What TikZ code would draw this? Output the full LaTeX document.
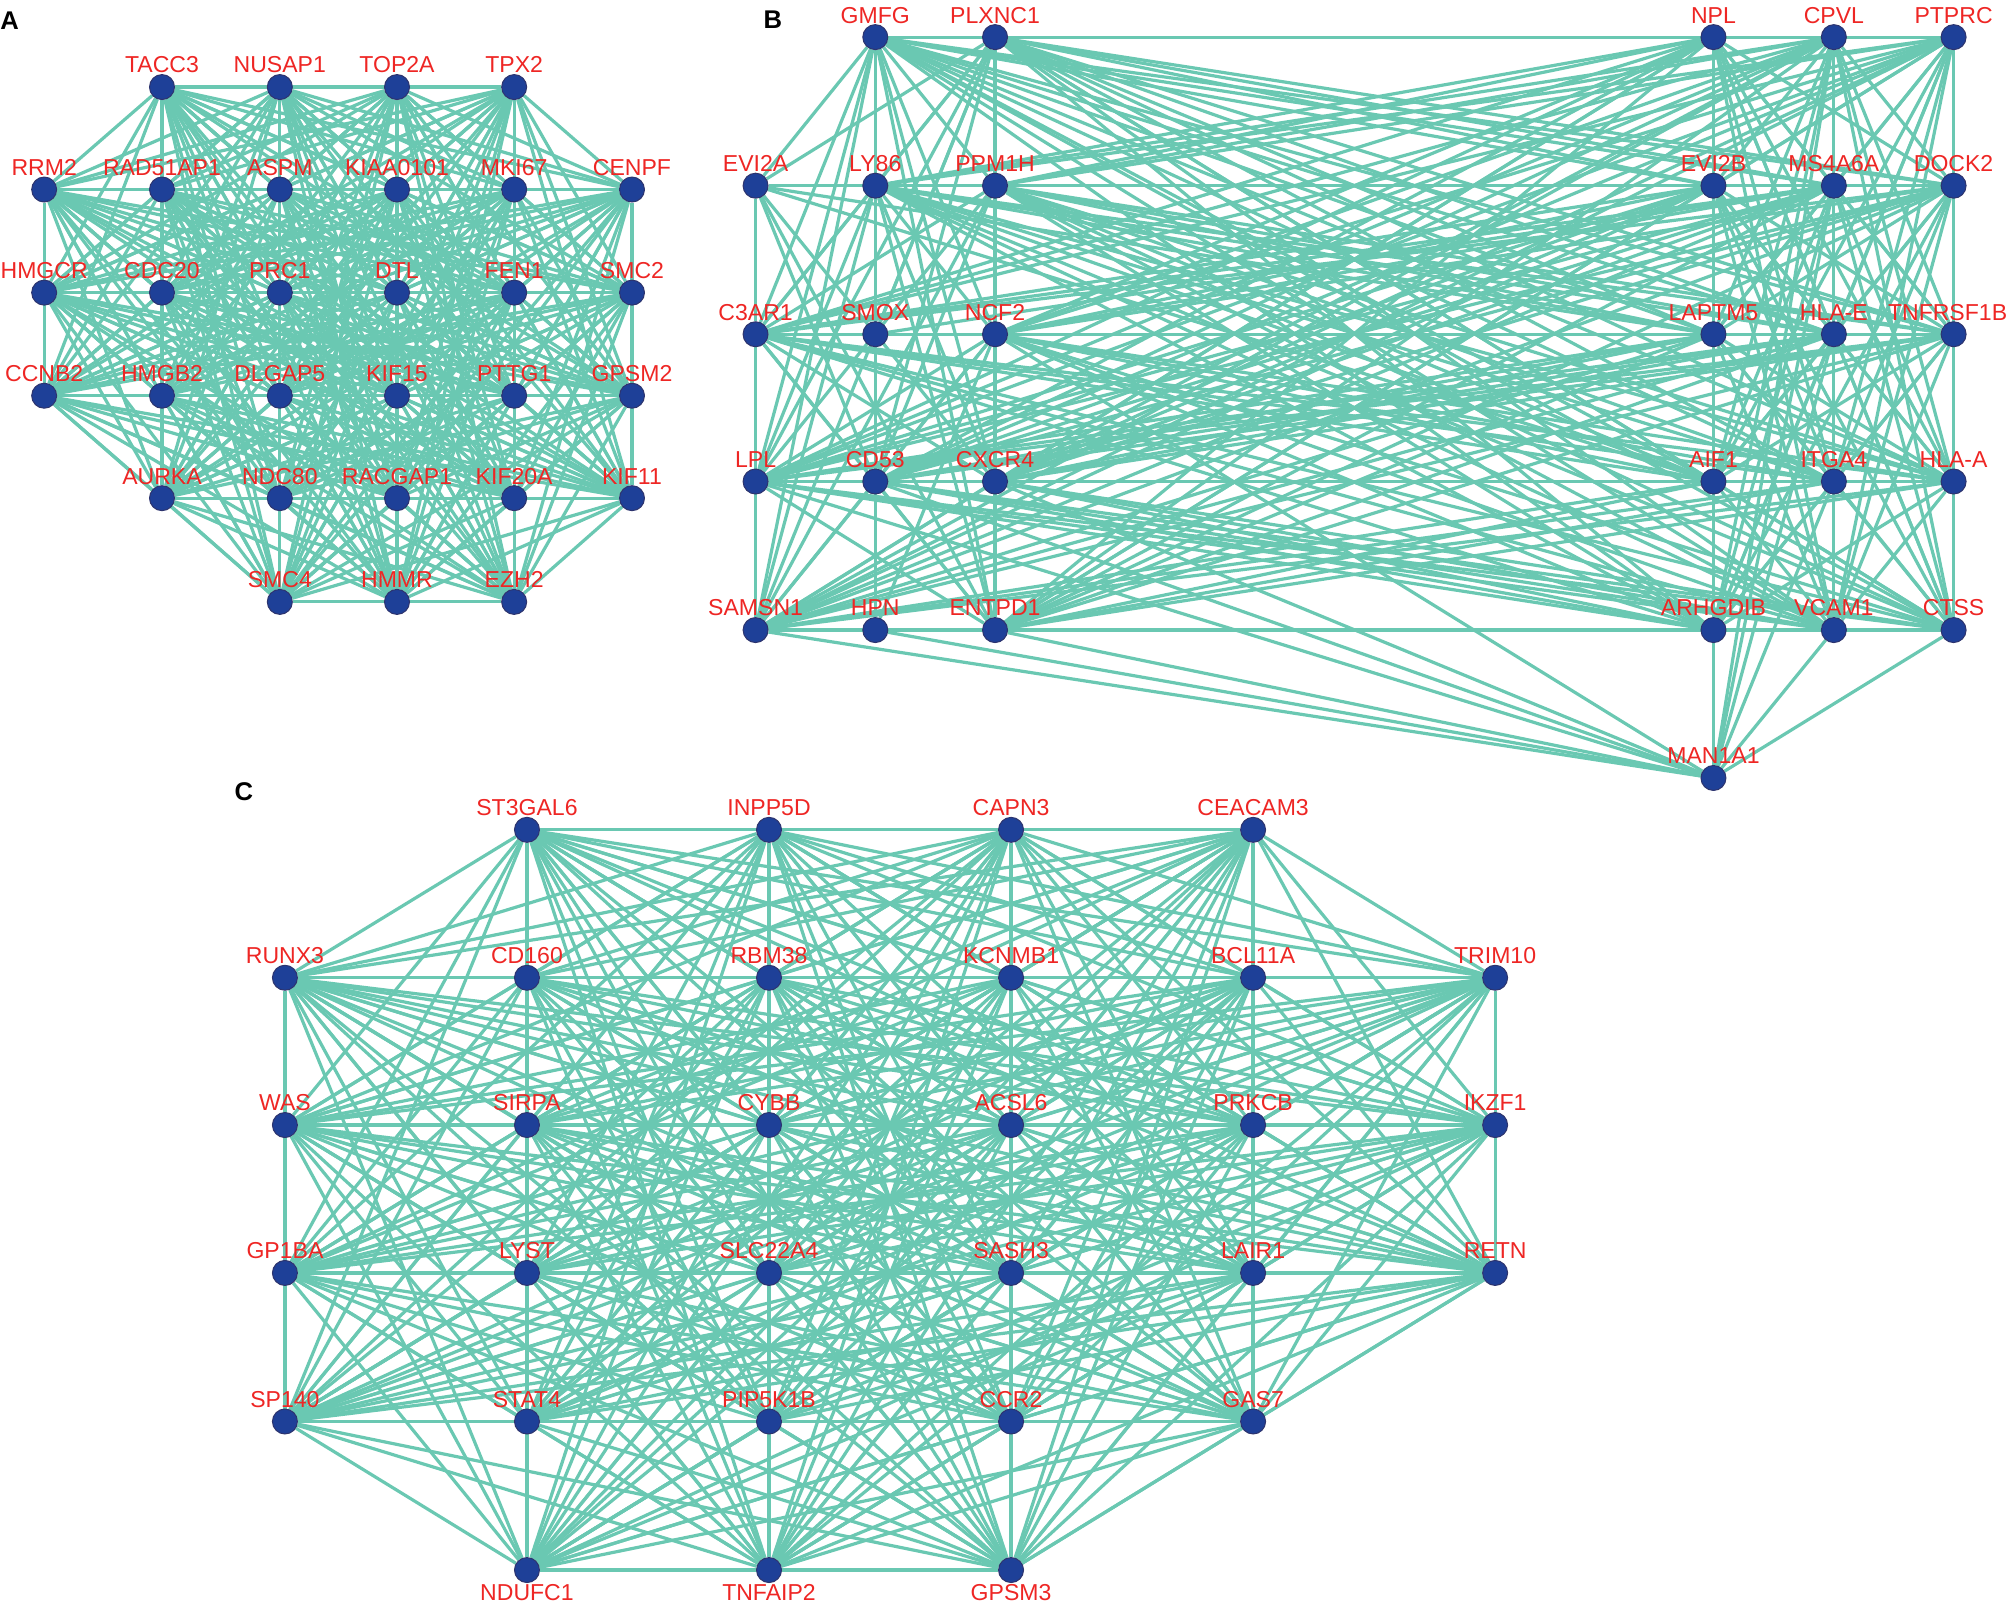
\documentclass[tikz,border=0pt]{standalone}
\usepackage{fontspec}
\setmainfont{Liberation Sans}
\usetikzlibrary{backgrounds}
\definecolor{edgec}{RGB}{106,200,178}
\definecolor{nodec}{RGB}{30,64,152}
\definecolor{nodeb}{RGB}{45,52,110}
\definecolor{labc}{RGB}{238,38,36}
\tikzset{
  gene/.style={circle, fill=nodec, draw=nodeb, line width=0.8pt, minimum size=19.5pt, inner sep=0pt},
  edge/.style={draw=edgec, line width=2.5pt},
  lab/.style={text=labc, font=\fontsize{18}{18}\selectfont, inner sep=0pt, anchor=base},
  labb/.style={text=labc, font=\fontsize{18}{18}\selectfont, inner sep=0pt, anchor=north},
  plabel/.style={font=\fontsize{20}{20}\selectfont\bfseries, anchor=base west, inner sep=0pt}
}
\begin{document}
\begin{tikzpicture}[x=1pt,y=-1pt]
\useasboundingbox (0,0) rectangle (1568,1253);
\node[plabel] (pA) at (0,23) {A};
\node[plabel] (pB) at (596,22) {B};
\node[plabel] (pC) at (183,625) {C};
% ---------- Panel A nodes ----------
\foreach \n/\x/\y/\t in {
 a1/126.5/68/TACC3, a2/218.5/68/NUSAP1, a3/310/68/TOP2A, a4/401.5/68/TPX2,
 a5/34.5/148/RRM2, a6/126.5/148/RAD51AP1, a7/218.5/148/ASPM, a8/310/148/KIAA0101, a9/401.5/148/MKI67, a10/493.5/148/CENPF,
 a11/34.5/228.5/HMGCR, a12/126.5/228.5/CDC20, a13/218.5/228.5/PRC1, a14/310/228.5/DTL, a15/401.5/228.5/FEN1, a16/493.5/228.5/SMC2,
 a17/34.5/309/CCNB2, a18/126.5/309/HMGB2, a19/218.5/309/DLGAP5, a20/310/309/KIF15, a21/401.5/309/PTTG1, a22/493.5/309/GPSM2,
 a23/126.5/389/AURKA, a24/218.5/389/NDC80, a25/310/389/RACGAP1, a26/401.5/389/KIF20A, a27/493.5/389/KIF11,
 a28/218.5/470/SMC4, a29/310/470/HMMR, a30/401.5/470/EZH2}
{ \node[gene] (\n) at (\x,\y) {}; \node[lab] (\n t) at (\x,\y-11) {\t}; }
% ---------- Panel B nodes ----------
\foreach \n/\x/\y/\t in {
 b1/683.5/29/GMFG, b2/777/29/PLXNC1, b3/1338/29/NPL, b4/1432/29/CPVL, b5/1525.5/29/PTPRC,
 b6/590/145/EVI2A, b7/683.5/145/LY86, b8/777/145/PPM1H, b9/1338/145/EVI2B, b10/1432/145/MS4A6A, b11/1525.5/145/DOCK2,
 b12/590/261/C3AR1, b13/683.5/261/SMOX, b14/777/261/NCF2, b15/1338/261/LAPTM5, b16/1432/261/HLA-E,
 b18/590/376/LPL, b19/683.5/376/CD53, b20/777/376/CXCR4, b21/1338/376/AIF1, b22/1432/376/ITGA4, b23/1525.5/376/HLA-A,
 b24/590/492/SAMSN1, b25/683.5/492/HPN, b26/777/492/ENTPD1, b27/1338/492/ARHGDIB, b28/1432/492/VCAM1, b29/1525.5/492/CTSS,
 b30/1338/607.5/MAN1A1}
{ \node[gene] (\n) at (\x,\y) {}; \node[lab] (\n t) at (\x,\y-11) {\t}; }
\node[gene] (b17) at (1525.5,261) {};
\node[lab, anchor=base east] (b17t) at (1567.5,250) {TNFRSF1B};
% ---------- Panel C nodes ----------
\foreach \n/\x/\y/\t in {
 c1/411.5/648/ST3GAL6, c2/600.5/648/INPP5D, c3/789.5/648/CAPN3, c4/978.5/648/CEACAM3,
 c5/222.5/763.5/RUNX3, c6/411.5/763.5/CD160, c7/600.5/763.5/RBM38, c8/789.5/763.5/KCNMB1, c9/978.5/763.5/BCL11A, c10/1167.5/763.5/TRIM10,
 c11/222.5/878.5/WAS, c12/411.5/878.5/SIRPA, c13/600.5/878.5/CYBB, c14/789.5/878.5/ACSL6, c15/978.5/878.5/PRKCB, c16/1167.5/878.5/IKZF1,
 c17/222.5/994/GP1BA, c18/411.5/994/LYST, c19/600.5/994/SLC22A4, c20/789.5/994/SASH3, c21/978.5/994/LAIR1, c22/1167.5/994/RETN,
 c23/222.5/1110/SP140, c24/411.5/1110/STAT4, c25/600.5/1110/PIP5K1B, c26/789.5/1110/CCR2, c27/978.5/1110/GAS7}
{ \node[gene] (\n) at (\x,\y) {}; \node[lab] (\n t) at (\x,\y-11) {\t}; }
\foreach \n/\x/\y/\t in {c28/411.5/1226/NDUFC1, c29/600.5/1226/TNFAIP2, c30/789.5/1226/GPSM3}
{ \node[gene] (\n) at (\x,\y) {}; \node[labb] (\n t) at (\x,\y+11) {\t}; }
% ---------- Edges ----------
\begin{scope}[on background layer]
 \foreach \i in {1,...,29} {
   \pgfmathtruncatemacro\js{\i+1}
   \foreach \j in {\js,...,30} { \draw[edge] (a\i) -- (a\j); \draw[edge] (c\i) -- (c\j); }
 }
 % panel B: dense nodes fully connected
 \foreach \u [count=\i] in {b1,b2,b3,b4,b5,b7,b8,b9,b10,b11,b12,b14,b15,b16,b17,b18,b19,b20,b21,b22,b23,b24,b26,b27,b28,b29} {
   \foreach \v [count=\j] in {b1,b2,b3,b4,b5,b7,b8,b9,b10,b11,b12,b14,b15,b16,b17,b18,b19,b20,b21,b22,b23,b24,b26,b27,b28,b29} {
     \ifnum\j>\i \draw[edge] (\u) -- (\v); \fi
   }
 }
 % sparse nodes
 \foreach \v in {b1,b2,b7,b12,b19,b20,b26,b9,b21,b15} \draw[edge] (b6) -- (\v);
 \foreach \v in {b7,b19,b12,b14,b1,b2,b15,b10} \draw[edge] (b13) -- (\v);
 \foreach \v in {b19,b24,b26,b7,b1,b27,b30,b14} \draw[edge] (b25) -- (\v);
 \foreach \v in {b27,b28,b29,b24,b26,b20,b19,b18,b14,b22,b16,b10,b4} \draw[edge] (b30) -- (\v);
\end{scope}
\end{tikzpicture}
\end{document}
